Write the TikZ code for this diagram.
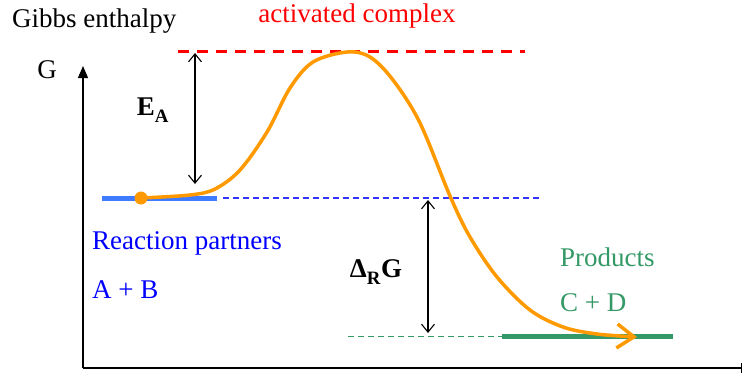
\documentclass[tikz,border=0pt]{standalone}
\usepackage{fontspec}
\setmainfont{Liberation Serif}
\usetikzlibrary{arrows.meta, positioning}
\definecolor{EnOrange}{HTML}{FF9900}
\definecolor{EnBlue}{HTML}{0000FF}
\definecolor{EnBlueLine}{HTML}{3F7BFF}
\definecolor{EnGreen}{HTML}{339966}
\definecolor{EnRed}{HTML}{FF0000}

\begin{document}
\begin{tikzpicture}[x=1pt, y=-1pt,
    label/.style={font=\fontsize{27}{31}\selectfont, inner sep=0pt},
    level/.style={line width=5pt},
    guide/.style={line width=1.2pt, dash pattern=on 6pt off 4pt},
    gap/.style={line width=1.1pt, {Straight Barb[length=8pt,width=13pt]}-{Straight Barb[length=8pt,width=13pt]}}
]
    \useasboundingbox (0,0) rectangle (744,376);

    % axes
    \coordinate (origin) at (83,368);
    \coordinate (ytop) at (83,66);
    \coordinate (xend) at (742,368);
    \draw[line width=1.3pt, -{Triangle[length=12pt,width=10pt]}] (origin) -- (ytop);
    \draw[line width=1.3pt, -{Bar[width=10pt]}] (origin) -- (xend);
    \node[label, anchor=west] (title) at (12,21) {Gibbs enthalpy};
    \node[label] (gaxis) at (47,70) {G};

    % energy levels
    \coordinate (peakL) at (178,51);
    \coordinate (peakR) at (525,51);
    \coordinate (eduL) at (102,198);
    \coordinate (eduR) at (217,198);
    \coordinate (eduD) at (540,198);
    \coordinate (proL) at (502,336);
    \coordinate (proR) at (673,336);
    \coordinate (proD) at (348,336);
    \draw[EnRed, line width=3pt, dash pattern=on 11pt off 8pt] (peakL) -- (peakR);
    \draw[EnBlueLine, level] (eduL) -- (eduR);
    \draw[EnBlue!80, guide] ([xshift=6pt]eduR) -- (eduD);
    \draw[EnGreen, guide, line width=0.9pt] (proD) -- (proL);
    \draw[EnGreen, level] (proL) -- (proR);

    % reaction path
    \coordinate (start) at (141,198);
    \coordinate (stop) at (637,337);
    \draw[EnOrange, line width=3.5pt, line cap=round, -{Straight Barb[length=17pt,width=24pt]}]
        plot[smooth, tension=0.55] coordinates {(start) (190,195) (215,189) (240,170)
        (267,132) (290,88) (313,62) (347,52) (370,57) (393,80) (420,123) (450,196)
        (470,237) (497,277) (530,310) (563,327) (597,334) (stop)};
    \fill[EnOrange] (start) circle (6.5pt);

    % energy gaps
    \coordinate (eaTop) at (195,53);
    \coordinate (eaBot) at (195,184);
    \coordinate (rgTop) at (428,200);
    \coordinate (rgBot) at (428,333);
    \draw[gap] (eaTop) -- (eaBot);
    \draw[gap] (rgTop) -- (rgBot);

    % labels
    \node[label, EnRed] (complex) at (357,16) {activated complex};
    \node[label] (ea) at (153,110) {\textbf{E\raisebox{-0.3ex}{\textsubscript{A}}}};
    \node[label] (drg) at (376,272) {\textbf{Δ\raisebox{-0.3ex}{\textsubscript{R}}G}};
    \node[label, EnBlue, anchor=west] (partners) at (92,243) {Reaction partners};
    \node[label, EnBlue, anchor=west] (educts) at (92,290) {A + B};
    \node[label, EnGreen, anchor=west] (products) at (560,257) {Products};
    \node[label, EnGreen, anchor=west] (cd) at (560,303) {C + D};
\end{tikzpicture}
\end{document}
